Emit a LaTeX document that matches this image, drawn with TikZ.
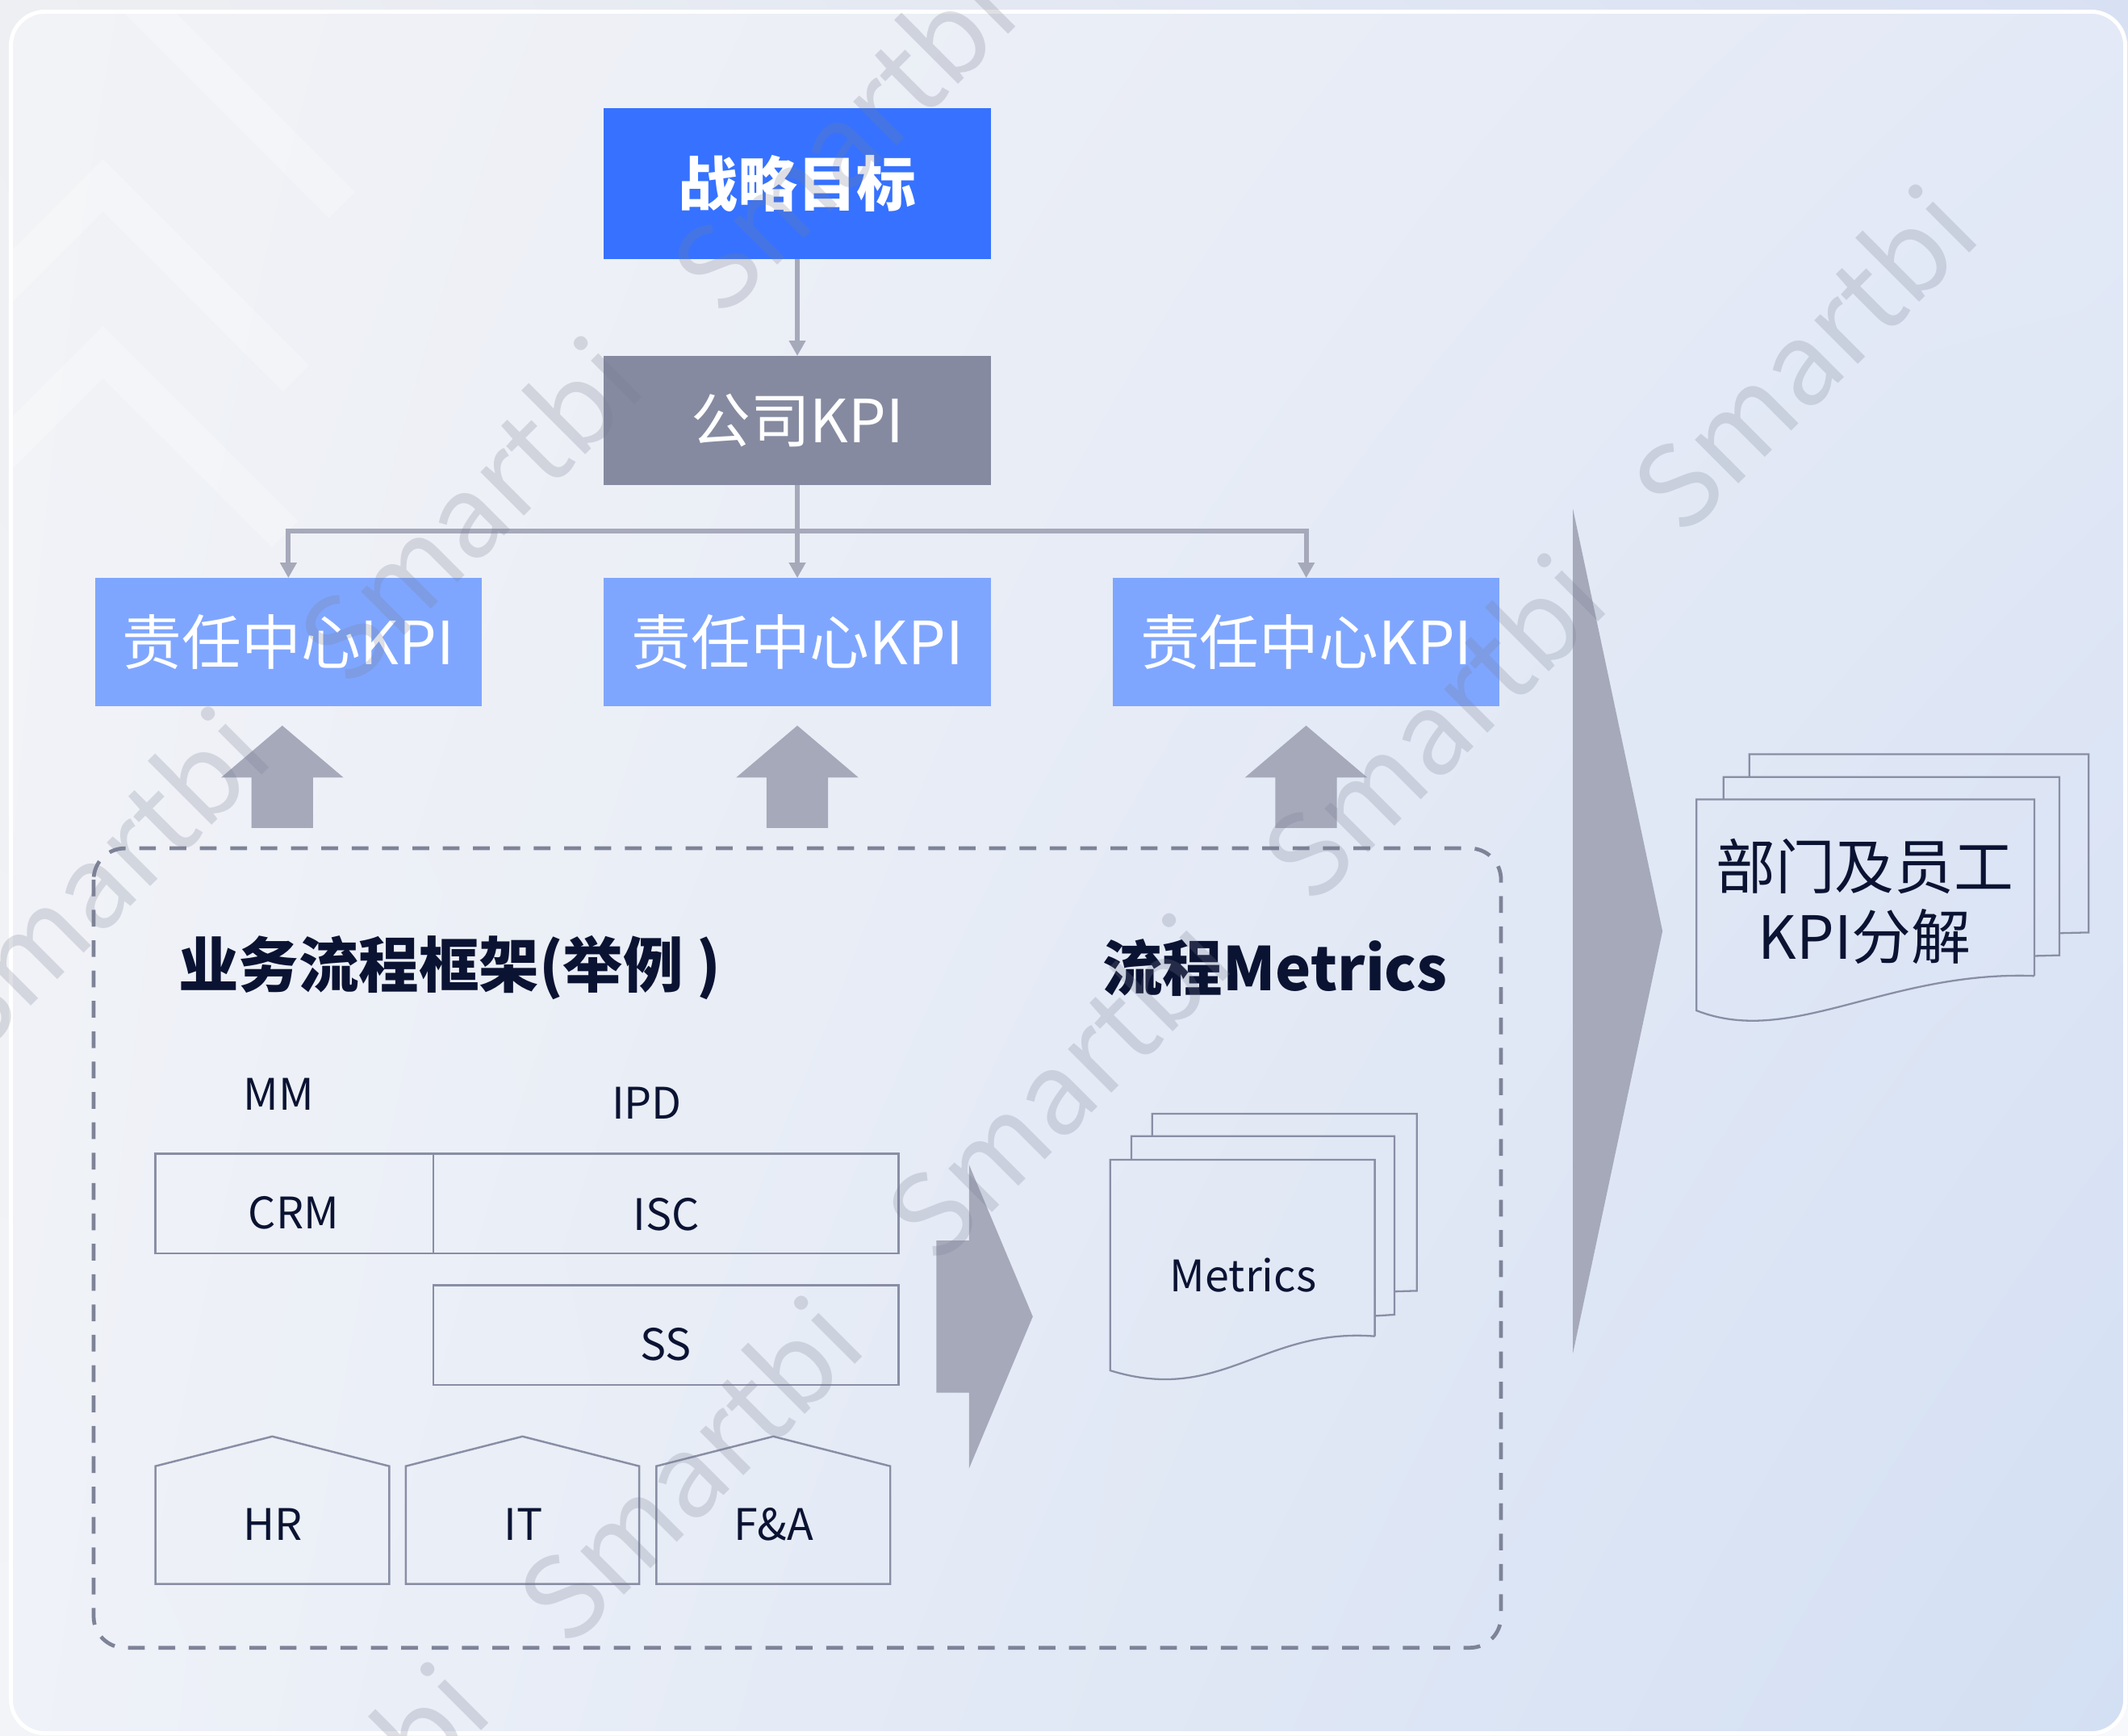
\documentclass[tikz,border=0pt]{standalone}
\usepackage{fontspec}
\setmainfont{Noto Sans CJK SC}
\usetikzlibrary{arrows.meta,shadings}
\definecolor{bluetop}{HTML}{3672FF}
\definecolor{greybox}{HTML}{858AA0}
\definecolor{lightblue}{HTML}{7FA6FF}
\definecolor{arrowgrey}{HTML}{A6A9BA}
\definecolor{navy}{HTML}{0B1333}
\definecolor{dashcol}{HTML}{7E8398}
\definecolor{outline}{HTML}{898EA5}
\definecolor{wmcol}{HTML}{787D91}
\definecolor{bgUL}{HTML}{EEEFF2}
\definecolor{bgUR}{HTML}{D8E1F3}
\definecolor{bgLL}{HTML}{F3F4F7}
\definecolor{bgLR}{HTML}{F6F8FB}
\definecolor{pUL}{HTML}{F2F3F6}
\definecolor{pUR}{HTML}{E3E9F6}
\definecolor{pLL}{HTML}{EFF2F8}
\definecolor{pLR}{HTML}{D3DFF3}
\newcommand\szbig{\fontsize{21pt}{24.9pt}\selectfont}
\newcommand\szhead{\fontsize{21.2pt}{26pt}\selectfont}
\newcommand\szsmall{\fontsize{15.3pt}{19pt}\selectfont}
\newcommand\szwm{\fontsize{40pt}{48pt}\selectfont}
\begin{document}
\begin{tikzpicture}[x=0.016818cm, y=-0.016818cm,
  sized/.style 2 args={minimum width={#1*0.4785pt}, minimum height={#2*0.4785pt}, inner sep=0pt, outer sep=0pt},
  goalbox/.style={fill=bluetop, text=white, font=\szbig\bfseries},
  corpbox/.style={fill=greybox, text=white, font=\szbig},
  rcbox/.style={fill=lightblue, text=white, font=\szbig},
  conn/.style={draw=arrowgrey, line width=1.75pt, -{Triangle[width=5.6pt,length=5.4pt]}},
  busline/.style={draw=arrowgrey, line width=1.75pt},
  blockarrow/.style={fill=arrowgrey},
  procbox/.style={draw=outline, line width=0.7pt},
  lbl/.style={text=navy, font=\szsmall, inner sep=0pt},
  headtext/.style={text=navy, font=\szhead\bfseries, inner sep=0pt},
  wm/.style={text=wmcol, text opacity=0.24, font=\szwm, rotate=45, inner sep=0pt},
  sheet/.style={draw=outline, line width=0.65pt, line join=miter},
  chevron/.style={draw=white, opacity=0.25, line width=13pt},
]
\useasboundingbox (0,0) rectangle (1568,1279);
% background
\shade[upper left=bgUL, upper right=bgUR, lower left=bgLL, lower right=bgLR] (0,0) rectangle (1568,1279);
\shade[rounded corners=12pt, upper left=pUL, upper right=pUR, lower left=pLL, lower right=pLR] (8,8.6) rectangle (1566,1277);
\begin{scope}
  \clip[rounded corners=12pt] (8,8.6) rectangle (1566,1277);
  \draw[chevron] (-100,312.4) -- (75.8,136.6) -- (218,278.8);
  \draw[chevron] (-100,435.2) -- (75.8,259.4) -- (210,393.6);
  \draw[chevron] (60,-41) -- (252,151);
\end{scope}
\draw[white, line width=1.4pt, rounded corners=12pt] (8,8.6) rectangle (1566,1277);

% top hierarchy
\node[goalbox, sized={285.5}{111}] (goal) at (587.5,135.2) {战略目标};
\node[corpbox, sized={285.5}{95.3}] (corp) at (587.5,309.9) {公司KPI};
\node[rcbox, sized={285}{94.7}] (rc1) at (212.5,473.2) {责任中心KPI};
\node[rcbox, sized={285}{94.7}] (rc2) at (587.5,473.2) {责任中心KPI};
\node[rcbox, sized={285}{94.7}] (rc3) at (962.5,473.2) {责任中心KPI};
\draw[conn] (goal.south) -- (corp.north);
\coordinate (busc) at (587.5,391.3);
\draw[busline] (corp.south) -- (busc);
\draw[conn] (busc) -- (rc2.north);
\draw[conn] (busc) -| (rc1.north);
\draw[conn] (busc) -| (rc3.north);

% up block arrows
\foreach \x in {208,587.5,962.4}{
  \fill[blockarrow] (\x-22.7,610) -- (\x-22.7,572.8) -- (\x-45,572.8) -- (\x,534.6)
     -- (\x+45,572.8) -- (\x+22.7,572.8) -- (\x+22.7,610) -- cycle;
}

% dashed frame
\draw[dashcol, line width=1.35pt, dash pattern=on 5.9pt off 4.8pt, rounded corners=11pt] (69,625) rectangle (1106,1214);

\node[headtext, anchor=west] (hproc) at (131,713) {业务流程框架(举例 )};
\node[headtext, anchor=west] (hmet) at (812,713) {流程Metrics};

\node[lbl] (mm) at (205.4,806) {MM};
\node[lbl] (ipd) at (476.6,812.8) {IPD};

\node[procbox, sized={204.9}{73.5}] (crm) at (216.95,886.75) {};
\node[procbox, sized={342.8}{73.5}] (isc) at (490.8,886.75) {};
\node[procbox, sized={342.8}{73.5}] (ss) at (490.8,983.75) {};
\node[lbl] (crmt) at (216.4,893.7) {CRM};
\node[lbl] (isct) at (491,894.5) {ISC};
\node[lbl] (sst) at (490.6,990.6) {SS};

% houses
\draw[procbox] (114.5,1167) -- (114.5,1080.2) -- (200.65,1058.3) -- (286.8,1080.2) -- (286.8,1167) -- cycle;
\draw[procbox] (299,1167) -- (299,1080.2) -- (385,1058.3) -- (471,1080.2) -- (471,1167) -- cycle;
\draw[procbox] (483.6,1167) -- (483.6,1080.2) -- (569.8,1058.3) -- (656,1080.2) -- (656,1167) -- cycle;
\node[lbl] (hr) at (200.8,1123) {HR};
\node[lbl] (it) at (385.7,1123) {IT};
\node[lbl] (fa) at (570,1123) {F\&A};

% right block arrow into metrics
\fill[blockarrow] (690,914) -- (714,914) -- (714,858) -- (761,970) -- (714,1082) -- (714,1026) -- (690,1026) -- cycle;

% metrics document stack
\draw[sheet] (849,837) -- (849,820.6) -- (1044,820.6) -- (1044,951) -- (1027.5,951.5);
\draw[sheet] (833.7,854.5) -- (833.7,837) -- (1027.5,837) -- (1027.5,968.6) -- (1013,969.5);
\draw[sheet] (1013,984.5) -- (1013,854.5) -- (818,854.5) -- (818,1009.7) .. controls (900,1035) and (930,978) .. (1013,984.5);
\node[lbl] (met) at (916,939.5) {Metrics};

% big triangle
\fill[blockarrow] (1159,375) -- (1225,686) -- (1159,997) -- cycle;

% KPI document stack
\draw[sheet] (1289,572.4) -- (1289,555.7) -- (1539,555.7) -- (1539,687) -- (1517.5,687.5);
\draw[sheet] (1270,589) -- (1270,572.4) -- (1517.5,572.4) -- (1517.5,703.8) -- (1499,704.3);
\draw[sheet] (1499,719) -- (1499,589) -- (1250,589) -- (1250,744.5) .. controls (1320,772) and (1390,715) .. (1499,719);
\node[text=navy, font=\szbig, align=center, inner sep=0pt] (kpidoc) at (1374,664) {部门及员工\\KPI分解};

% watermarks
\begin{scope}
  \clip (0,0) rectangle (1568,1279);
  \node[wm] (wm1) at (620,102) {Smartbi};
  \node[wm] (wm2) at (345,375) {Smartbi};
  \node[wm] (wm3) at (1328,263) {Smartbi};
  \node[wm] (wm4) at (70,648) {Smartbi};
  \node[wm] (wm5) at (1055,535) {Smartbi};
  \node[wm] (wm6) at (778,800) {Smartbi};
  \node[wm] (wm7) at (507,1082) {Smartbi};
  \node[wm] (wm8) at (232,1352) {Smartbi};
\end{scope}
\end{tikzpicture}
\end{document}
